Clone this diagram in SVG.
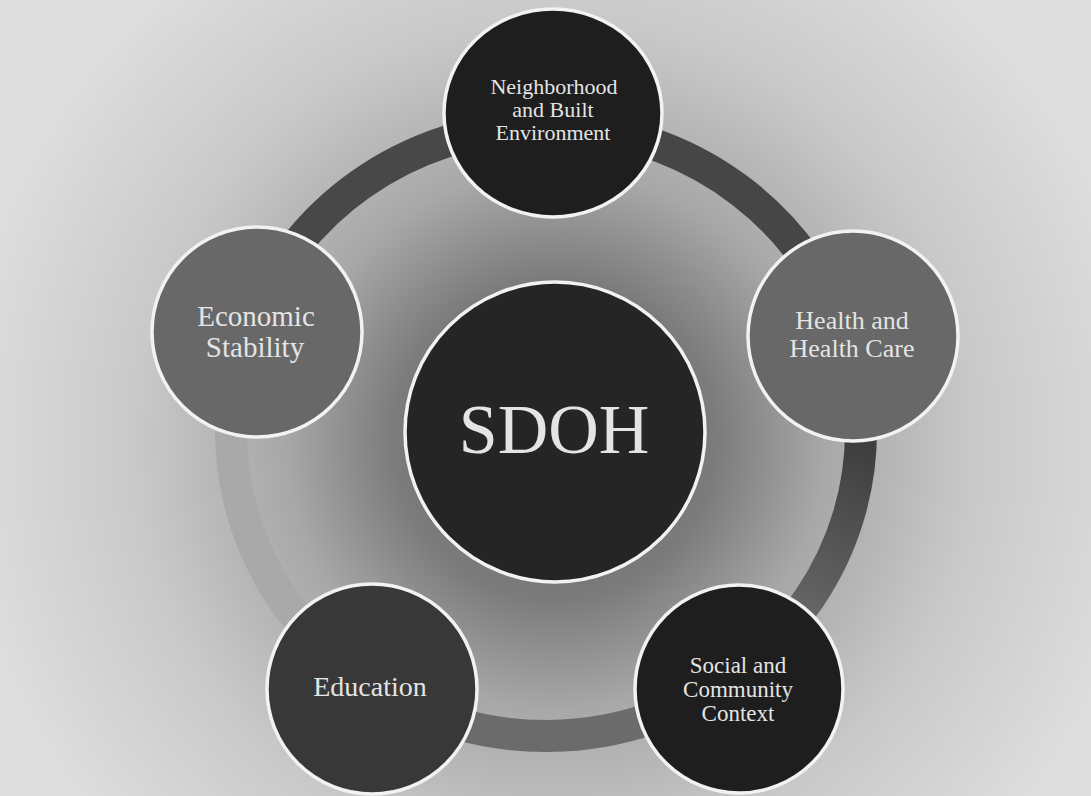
<svg xmlns="http://www.w3.org/2000/svg" width="1091" height="796" viewBox="0 0 1091 796">
  <defs>
    <radialGradient id="bg" gradientUnits="userSpaceOnUse" cx="555" cy="440" r="600">
      <stop offset="0" stop-color="#5e5e5e"/>
      <stop offset="0.27" stop-color="#7c7c7c"/>
      <stop offset="0.45" stop-color="#a8a8a8"/>
      <stop offset="0.7" stop-color="#c9c9c9"/>
      <stop offset="1" stop-color="#dedede"/>
    </radialGradient>
    <linearGradient id="rightArc" gradientUnits="userSpaceOnUse" x1="855" y1="440" x2="790" y2="620">
      <stop offset="0" stop-color="#3e3e3e"/>
      <stop offset="1" stop-color="#686868"/>
    </linearGradient>
  </defs>
  <style>
    .ring { fill: none; stroke-width: 32; }
    .node { stroke: #f2f2f2; stroke-width: 3.5; }
    .dark { fill: #1e1e1e; }
    .mid { fill: #686868; }
    .edu { fill: #383838; }
    .lbl { font-family: "Liberation Serif", "Times New Roman", serif; fill: #e4e4e4; text-anchor: middle; }
  </style>

  <rect x="0" y="0" width="1091" height="796" fill="url(#bg)"/>

  <g id="connectors">
    <path class="ring" stroke="#484848" d="M250,327 A315,305 0 0 1 535,126"/>
    <path class="ring" stroke="#464646" d="M573.5,127 A315,305 0 0 1 845.6,336.8"/>
    <path class="ring" stroke="url(#rightArc)" d="M845.6,336.8 A315,305 0 0 1 748.5,664.6"/>
    <path class="ring" stroke="#6b6b6b" d="M748.5,664.6 A315,305 0 0 1 369.9,683.9"/>
    <path class="ring" stroke="#a9a9a9" d="M369.9,683.9 A315,305 0 0 1 250,327"/>
  </g>

  <g id="node-neighborhood">
    <ellipse class="node dark" cx="553" cy="113" rx="109" ry="104"/>
    <text class="lbl" font-size="22"><tspan x="554" y="94">Neighborhood</tspan><tspan x="553" y="117">and Built</tspan><tspan x="553" y="140">Environment</tspan></text>
  </g>

  <g id="node-economic">
    <circle class="node mid" cx="257" cy="332" r="105"/>
    <text class="lbl" font-size="29"><tspan x="256" y="326">Economic</tspan><tspan x="255" y="357">Stability</tspan></text>
  </g>

  <g id="node-health">
    <circle class="node mid" cx="853" cy="336" r="105"/>
    <text class="lbl" font-size="26"><tspan x="852" y="329">Health and</tspan><tspan x="852" y="357">Health Care</tspan></text>
  </g>

  <g id="node-education">
    <circle class="node edu" cx="372" cy="689" r="105"/>
    <text class="lbl" font-size="28" x="370" y="696">Education</text>
  </g>

  <g id="node-social">
    <circle class="node dark" cx="739" cy="689" r="104"/>
    <text class="lbl" font-size="23"><tspan x="738" y="673">Social and</tspan><tspan x="738" y="697">Community</tspan><tspan x="738" y="721">Context</tspan></text>
  </g>

  <g id="node-sdoh">
    <circle class="node" fill="#252525" cx="555" cy="432" r="150"/>
    <text class="lbl" font-size="70" x="554" y="453" fill="#ececec">SDOH</text>
  </g>
</svg>
